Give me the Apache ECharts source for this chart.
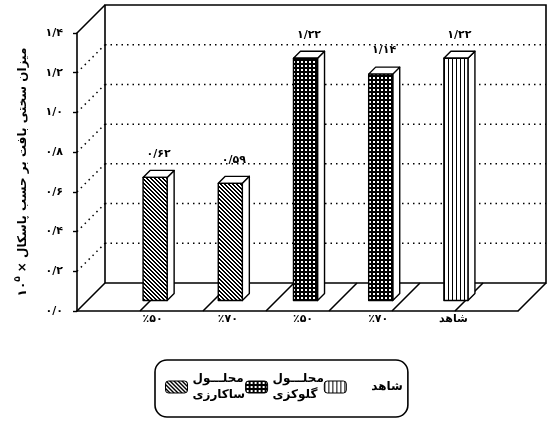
<!DOCTYPE html>
<html>
<head>
<meta charset="utf-8">
<script src="https://cdn.jsdelivr.net/npm/echarts@6/dist/echarts.min.js"></script>
<style>
  html, body { margin: 0; padding: 0; background: #fff; }
  #chart { width: 552px; height: 424px; }
</style>
</head>
<body>
<div id="chart"></div>
<script>
// Texture hardness (Pa x 10^5) per treatment
const categories = ['٪۵۰', '٪۷۰', '٪۵۰', '٪۷۰', 'شاهد'];
const hardness = [0.62, 0.59, 1.22, 1.14, 1.22];
const treatment = ['محلول ساکارزی', 'محلول ساکارزی', 'محلول گلوکزی', 'محلول گلوکزی', 'شاهد'];
const seriesNames = ['محلول ساکارزی', 'محلول گلوکزی', 'شاهد'];
const legendLabels = ['محلـــول\nساکارزی', 'محلـــول\nگلوکزی', 'شاهد'];
const yTicks = [0, 0.2, 0.4, 0.6, 0.8, 1.0, 1.2, 1.4];
const yTitle = 'میزان سختی بافت بر حسب پاسکال';
const floorSections = 7;

const FONT = '"DejaVu Sans", sans-serif';
const DEPTH = 28;      // receding depth of the box (px)
const BAR_DEPTH = 7;   // depth of each prism

const faDigits = '۰۱۲۳۴۵۶۷۸۹';
function fa(v, decimals) {
  return v.toFixed(decimals).replace('.', '/').replace(/\d/g, d => faDigits[d]);
}

function tile(size, isInk) {
  const c = document.createElement('canvas');
  c.width = c.height = size;
  const ctx = c.getContext('2d');
  const img = ctx.createImageData(size, size);
  for (let y = 0; y < size; y++) {
    for (let x = 0; x < size; x++) {
      const k = (y * size + x) * 4;
      const v = isInk(x, y) ? 0 : 255;
      img.data[k] = img.data[k + 1] = img.data[k + 2] = v;
      img.data[k + 3] = 255;
    }
  }
  ctx.putImageData(img, 0, 0);
  return { image: c, repeat: 'repeat' };
}
const fills = {
  'محلول ساکارزی': tile(4, (x, y) => ((x - y + 8) % 4) < 2),
  'محلول گلوکزی': tile(4, (x, y) => !((x === 1 || x === 2) && (y === 1 || y === 2))),
  'شاهد': tile(4, (x, y) => x === 0)
};

function frameRender(params, api) {
  const c = (x, y) => api.coord([x, y]);
  const yMin = yTicks[0], yMax = yTicks[yTicks.length - 1];
  const bl = c(0, yMin), br = c(floorSections, yMin), tl = c(0, yMax);
  const line = (a, b, dotted) => ({
    type: 'line',
    shape: { x1: a[0], y1: a[1], x2: b[0], y2: b[1] },
    style: dotted
      ? { stroke: '#000', lineWidth: 1.5, lineDash: [1.5, 4] }
      : { stroke: '#000', lineWidth: 1.6 }
  });
  const back = p => [p[0] + DEPTH, p[1] - DEPTH];
  const kids = [];
  // dotted grid on back wall and left wall
  yTicks.slice(1, -1).forEach(v => {
    const f = c(0, v);
    kids.push(line(back(f), back(c(floorSections, v)), true));
    kids.push(line(f, back(f), true));
  });
  // back wall outline
  kids.push({
    type: 'rect',
    shape: { x: bl[0] + DEPTH, y: tl[1] - DEPTH, width: br[0] - bl[0], height: bl[1] - tl[1] },
    style: { fill: 'none', stroke: '#000', lineWidth: 1.6 }
  });
  // left wall and floor edges
  kids.push(line(tl, back(tl)));
  kids.push(line(bl, back(bl)));
  kids.push(line(br, back(br)));
  for (let i = 1; i < floorSections; i++) {
    const p = c(i, yMin);
    kids.push(line(p, back(p)));
  }
  return { type: 'group', children: kids };
}

function barRender(params, api) {
  const idx = api.value(0), v = api.value(1);
  const base = api.coord([idx, 0]);
  const top = api.coord([idx, v]);
  const band = api.size([1, 0])[0];
  const w = band * 0.32, d = BAR_DEPTH, o = (DEPTH - d) / 2;
  const x0 = base[0] - w / 2 + o, yb = base[1] - o, yt = top[1] - o;
  const edge = { stroke: '#000', lineWidth: 1.4, lineJoin: 'round' };
  return {
    type: 'group',
    children: [
      { type: 'polygon', shape: { points: [[x0 + w, yt], [x0 + w + d, yt - d], [x0 + w + d, yb - d], [x0 + w, yb]] },
        style: Object.assign({ fill: '#fff' }, edge) },
      { type: 'polygon', shape: { points: [[x0, yt], [x0 + d, yt - d], [x0 + w + d, yt - d], [x0 + w, yt]] },
        style: Object.assign({ fill: '#fff' }, edge) },
      { type: 'rect', shape: { x: x0, y: yt, width: w, height: yb - yt },
        style: Object.assign({ fill: api.visual('color') }, edge) },
      { type: 'text', style: { text: fa(v, 2), x: x0 + (w + d) / 2, y: yt - d - 11,
        align: 'center', verticalAlign: 'bottom', fill: '#000',
        font: 'bold 11px ' + FONT } }
    ]
  };
}

const chart = echarts.init(document.getElementById('chart'), null, { renderer: 'canvas' });

const barSeries = seriesNames.map(name => ({
  type: 'custom',
  name: name,
  xAxisIndex: 1,
  yAxisIndex: 1,
  z: 5,
  itemStyle: { color: fills[name], borderColor: '#000', borderWidth: 1 },
  renderItem: barRender,
  data: hardness.map((v, i) => treatment[i] === name ? [i, v] : null).filter(Boolean)
}));

chart.setOption({
  animation: false,
  backgroundColor: '#fff',
  textStyle: { fontFamily: FONT },
  grid: [
    { left: 77, right: 34, top: 33, bottom: 113 },
    { left: 107, right: 69, top: 33, bottom: 113 }
  ],
  xAxis: [
    { type: 'value', gridIndex: 0, min: 0, max: floorSections,
      axisLine: { show: true, onZero: false, lineStyle: { color: '#000', width: 1.6 } },
      axisTick: { show: false }, axisLabel: { show: false }, splitLine: { show: false } },
    { type: 'category', gridIndex: 1, data: categories,
      axisLine: { show: false }, axisTick: { show: false }, splitLine: { show: false },
      axisLabel: { margin: 3, color: '#000', fontFamily: FONT, fontWeight: 'bold', fontSize: 11,
                   padding: [0, 0, 0, 16] } }
  ],
  yAxis: [
    { type: 'value', gridIndex: 0, min: yTicks[0], max: yTicks[yTicks.length - 1],
      interval: yTicks[1] - yTicks[0],
      axisLine: { show: true, lineStyle: { color: '#000', width: 1.6 } },
      axisTick: { show: true, length: 4, lineStyle: { color: '#000', width: 1.4 } },
      splitLine: { show: false },
      axisLabel: { margin: 14, color: '#000', fontFamily: FONT, fontWeight: 'bold', fontSize: 11,
                   formatter: v => fa(v, 1) },
      name: '{n|۱۰}{s|۵}{t| × ' + yTitle + '}',
      nameLocation: 'middle', nameRotate: 90, nameGap: 44,
      nameTextStyle: {
        rich: {
          n: { fontFamily: FONT, fontWeight: 'bold', fontSize: 12, color: '#000', lineHeight: 20 },
          s: { fontFamily: FONT, fontWeight: 'bold', fontSize: 9, color: '#000', verticalAlign: 'top', lineHeight: 20 },
          t: { fontFamily: FONT, fontWeight: 'bold', fontSize: 12, color: '#000', lineHeight: 20 }
        }
      } },
    { type: 'value', gridIndex: 1, min: yTicks[0], max: yTicks[yTicks.length - 1],
      interval: yTicks[1] - yTicks[0], show: false }
  ],
  legend: {
    data: seriesNames.map((n, i) => i === 2
      ? { name: n, textStyle: { padding: [0, 0, 0, 20] } }
      : { name: n }),
    formatter: name => legendLabels[seriesNames.indexOf(name)],
    left: 155, top: 360,
    orient: 'horizontal',
    itemWidth: 22, itemHeight: 12, itemGap: 0,
    padding: [3, 5, 6, 10],
    borderColor: '#000', borderWidth: 1.6, borderRadius: 12,
    selectedMode: false,
    itemStyle: { borderColor: '#000', borderWidth: 1 },
    textStyle: { color: '#000', fontFamily: FONT, fontWeight: 'bold', fontSize: 12,
                 lineHeight: 16, padding: [16, 0, 0, 0] }
  },
  series: [
    { type: 'custom', name: 'frame', xAxisIndex: 0, yAxisIndex: 0, z: 1, silent: true,
      renderItem: frameRender, data: [0] }
  ].concat(barSeries)
});
</script>
</body>
</html>
